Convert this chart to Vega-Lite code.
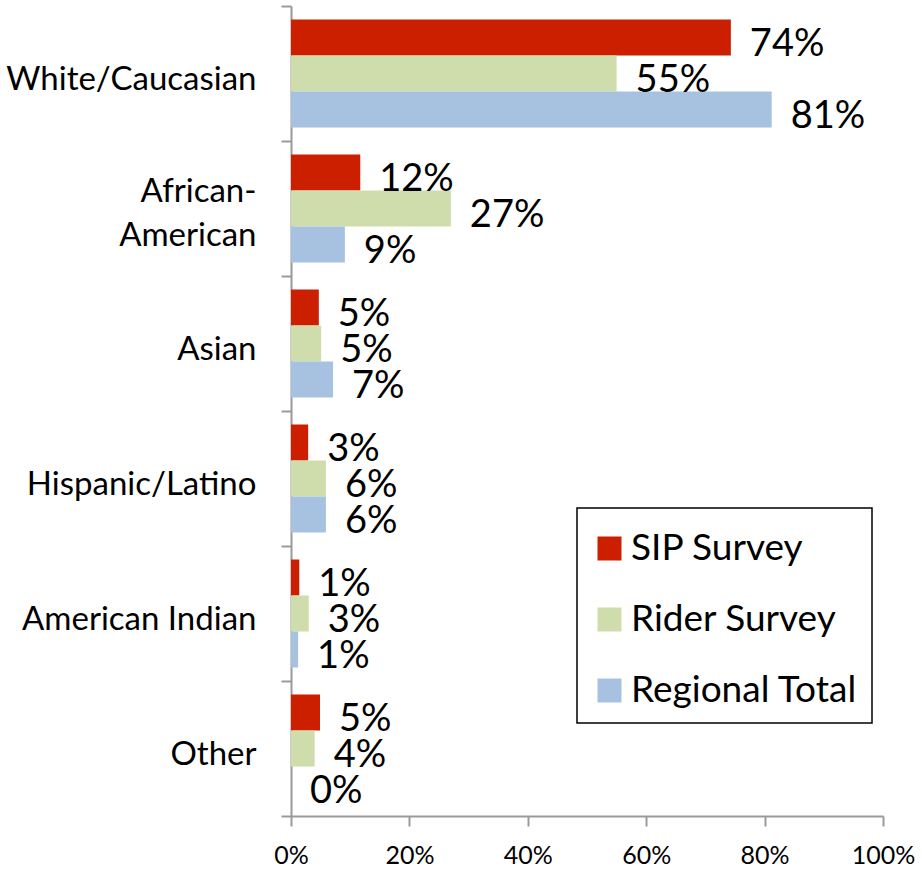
{
  "$schema": "https://vega.github.io/schema/vega-lite/v6.json",
  "width": 592,
  "height": 810,
  "padding": {"left": 291, "top": 6, "right": 39, "bottom": 58},
  "autosize": {"type": "none"},
  "config": {
    "font": "Lato",
    "view": {"stroke": null},
    "axis": {
      "domainColor": "#9a9a9a",
      "domainWidth": 2,
      "tickColor": "#9a9a9a",
      "tickWidth": 2,
      "tickSize": 10,
      "labelColor": "#000000",
      "labelFont": "Lato",
      "grid": false,
      "title": null
    }
  },
  "data": {
    "values": [
      {"group": "White/Caucasian", "series": "SIP Survey", "value": 0.743},
      {"group": "White/Caucasian", "series": "Rider Survey", "value": 0.55},
      {"group": "White/Caucasian", "series": "Regional Total", "value": 0.812},
      {"group": "African-American", "series": "SIP Survey", "value": 0.117},
      {"group": "African-American", "series": "Rider Survey", "value": 0.27},
      {"group": "African-American", "series": "Regional Total", "value": 0.091},
      {"group": "Asian", "series": "SIP Survey", "value": 0.047},
      {"group": "Asian", "series": "Rider Survey", "value": 0.051},
      {"group": "Asian", "series": "Regional Total", "value": 0.071},
      {"group": "Hispanic/Latino", "series": "SIP Survey", "value": 0.029},
      {"group": "Hispanic/Latino", "series": "Rider Survey", "value": 0.059},
      {"group": "Hispanic/Latino", "series": "Regional Total", "value": 0.059},
      {"group": "American Indian", "series": "SIP Survey", "value": 0.014},
      {"group": "American Indian", "series": "Rider Survey", "value": 0.03},
      {"group": "American Indian", "series": "Regional Total", "value": 0.012},
      {"group": "Other", "series": "SIP Survey", "value": 0.049},
      {"group": "Other", "series": "Rider Survey", "value": 0.04},
      {"group": "Other", "series": "Regional Total", "value": 0.0}
    ]
  },
  "encoding": {
    "y": {
      "field": "group",
      "type": "nominal",
      "sort": ["White/Caucasian", "African-American", "Asian", "Hispanic/Latino", "American Indian", "Other"],
      "scale": {"paddingInner": 0, "paddingOuter": 0},
      "axis": {
        "tickBand": "extent",
        "labelFontSize": 33,
        "labelPadding": 25,
        "labelLineHeight": 44,
        "labelLimit": 400,
        "labelExpr": "datum.value == 'African-American' ? ['African- ', 'American'] : datum.value",
        "labelOffset": {"condition": {"test": "datum.value == 'African-American'", "value": -17}, "value": 6}
      }
    },
    "yOffset": {
      "field": "series",
      "type": "nominal",
      "sort": ["SIP Survey", "Rider Survey", "Regional Total"],
      "scale": {"paddingInner": 0, "paddingOuter": 0.375}
    },
    "x": {
      "field": "value",
      "type": "quantitative",
      "scale": {"domain": [0, 1]},
      "axis": {
        "format": ".0%",
        "values": [0, 0.2, 0.4, 0.6, 0.8, 1],
        "labelFontSize": 25,
        "labelPadding": 17,
        "labelFlush": false
      }
    }
  },
  "layer": [
    {
      "mark": {"type": "bar"},
      "encoding": {
        "color": {
          "field": "series",
          "type": "nominal",
          "sort": ["SIP Survey", "Rider Survey", "Regional Total"],
          "scale": {
            "domain": ["SIP Survey", "Rider Survey", "Regional Total"],
            "range": ["#cc1f00", "#cfddac", "#a7c2e0"]
          },
          "legend": {
            "title": " ",
            "titleFontSize": 1,
            "titlePadding": 7,
            "orient": "none",
            "legendX": 286,
            "legendY": 502,
            "strokeColor": "#000000",
            "fillColor": "#ffffff",
            "padding": 14,
            "symbolType": "square",
            "symbolSize": 576,
            "symbolStrokeWidth": 0,
            "symbolOpacity": 1,
            "labelFontSize": 37,
            "labelFont": "Lato",
            "labelColor": "#000000",
            "labelLimit": 400,
            "labelOffset": 3,
            "rowPadding": 33,
            "encode": {"legend": {"update": {"strokeWidth": {"value": 1.5}}}}
          }
        }
      }
    },
    {
      "mark": {"type": "text", "align": "left", "baseline": "middle", "dx": 19, "dy": 7, "fontSize": 38, "font": "Lato", "color": "#000000"},
      "encoding": {
        "text": {"field": "value", "type": "quantitative", "format": ".0%"}
      }
    }
  ]
}
